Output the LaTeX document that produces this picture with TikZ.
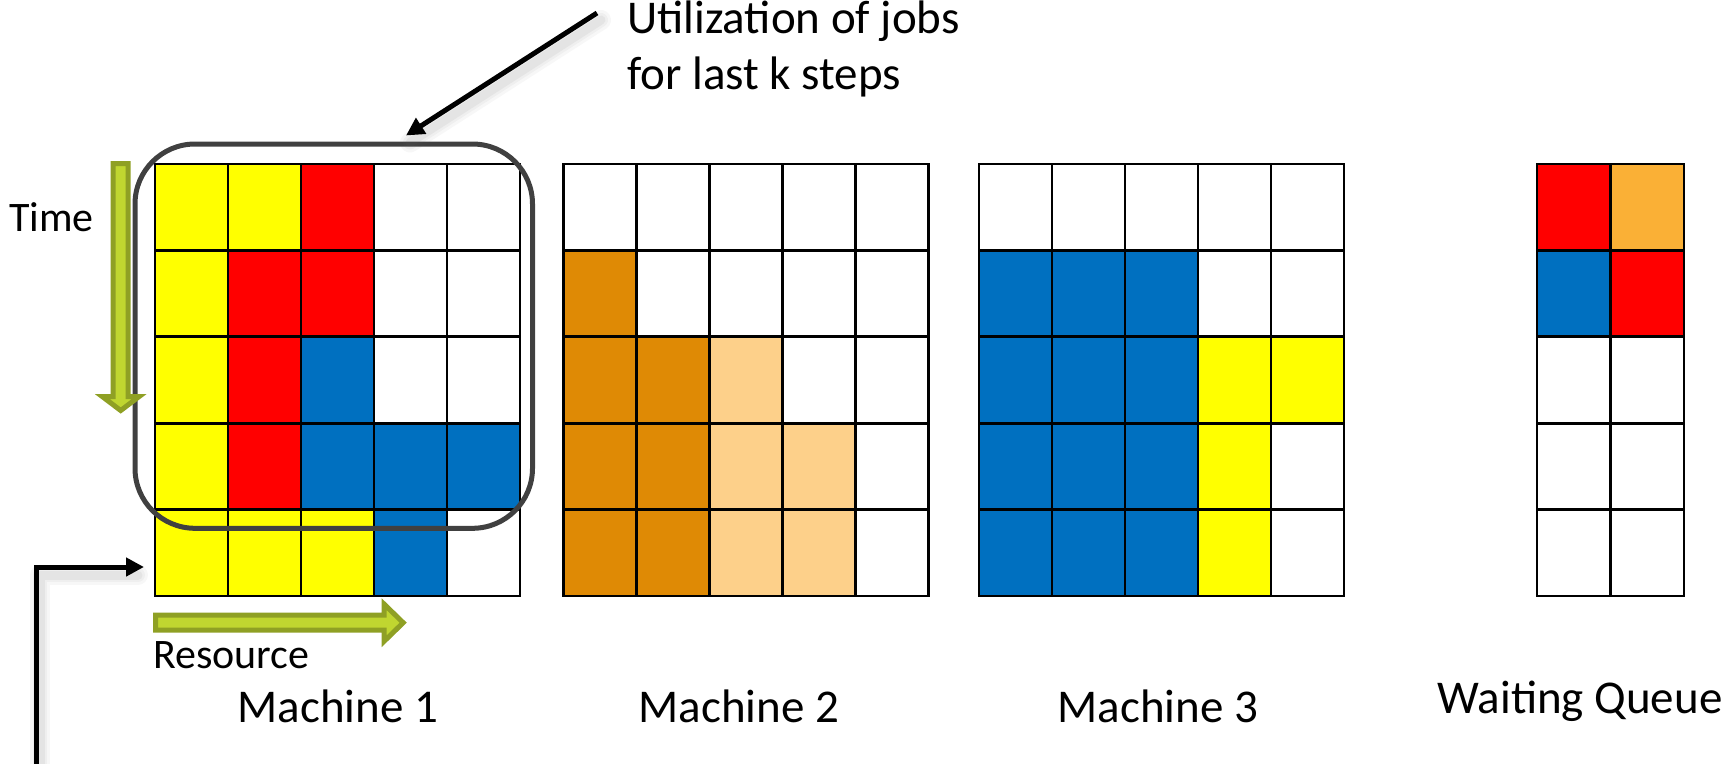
\documentclass[tikz,border=0pt]{standalone}
\usepackage{fontspec}
\setmainfont{Carlito}
\usetikzlibrary{arrows.meta}

% cell colours
\definecolor{cellY}{RGB}{255,255,0}
\definecolor{cellR}{RGB}{255,0,0}
\definecolor{cellB}{RGB}{0,112,192}
\definecolor{cellW}{RGB}{255,255,255}
\definecolor{cellD}{RGB}{223,138,5}
\definecolor{cellL}{RGB}{253,208,138}
\definecolor{cellO}{RGB}{250,176,54}
% other colours
\definecolor{axisFill}{RGB}{192,214,48}
\definecolor{axisEdge}{RGB}{143,160,36}
\definecolor{windowGray}{RGB}{64,64,64}

% #1 left x, #2 cell width, #3 number of columns, #4 rows of cell colours (top row first)
\newcommand\jobgrid[4]{%
  \foreach \rowcells [count=\r from 0] in {#4} {
    \foreach \cc [count=\i from 0] in \rowcells {
      \fill[fill=cell\cc] ({#1+\i*#2},{164+\r*86.4}) rectangle ++(#2,86.4);
    }
  }
  \foreach \i in {0,...,#3} \draw[gridline] ({#1+\i*#2},164) -- ++(0,432);
  \foreach \j in {0,...,5} \draw[gridline] (#1,{164+\j*86.4}) -- ++({#3*#2},0);
}

\tikzset{
  gridline/.style={black, line width=2.8pt, line cap=rect},
  biglabel/.style={font=\fontsize{47}{56}\selectfont, inner sep=0pt},
  smalllabel/.style={font=\fontsize{42}{50}\selectfont, inner sep=0pt},
  window/.style={draw=windowGray, line width=5pt, rounded corners=60pt, inner sep=0pt},
  axisarrow/.style={fill=axisFill, draw=axisEdge, line width=5pt, line join=miter},
  pointer/.style={black, line width=5pt, -{Triangle[length=18pt,width=18pt]}},
  shadowstroke/.style={black!60, line cap=round, line join=round},
}

\begin{document}
\begin{tikzpicture}[x=1pt, y=-1pt]
\useasboundingbox (0,0) rectangle (1732,763);

% machine grids
\jobgrid{155}{73}{5}{{Y,Y,R,W,W},{Y,R,R,W,W},{Y,R,B,W,W},{Y,R,B,B,B},{Y,Y,Y,B,W}}
\jobgrid{563.3}{73}{5}{{W,W,W,W,W},{D,W,W,W,W},{D,D,L,W,W},{D,D,L,L,W},{D,D,L,L,W}}
\jobgrid{979}{73}{5}{{W,W,W,W,W},{B,B,B,W,W},{B,B,B,Y,Y},{B,B,B,Y,W},{B,B,B,Y,W}}
% waiting queue
\jobgrid{1537}{73.5}{2}{{R,O},{B,R},{W,W},{W,W},{W,W}}

% window of the last k steps
\node[window, minimum width=397.5pt, minimum height=384.3pt] (window) at (333.75,336.15) {};

% time and resource axes
\draw[axisarrow] (113.2,163.5) -- (128.2,163.5) -- (128.2,396.5) -- (139.2,396.5)
  -- (120.7,410.5) -- (102.2,396.5) -- (113.2,396.5) -- cycle;
\draw[axisarrow] (155.5,615.2) -- (384.2,615.2) -- (384.2,604.2) -- (403.2,622.7)
  -- (384.2,641.2) -- (384.2,630.2) -- (155.5,630.2) -- cycle;

% labels
\node[smalllabel, anchor=base west] (time) at (9,231) {Time};
\node[smalllabel, anchor=base west] (resource) at (153,668) {Resource};
\node[biglabel, anchor=base] (m1) at (338,722) {Machine 1};
\node[biglabel, anchor=base] (m2) at (739,722) {Machine 2};
\node[biglabel, anchor=base] (m3) at (1158,722) {Machine 3};
\node[biglabel, anchor=base] (queue) at (1580,713) {Waiting Queue};
\node[biglabel, align=left, anchor=north west] (util) at (627,1) {Utilization of jobs\\for last k steps};

% pointers with soft shadows
\coordinate (utilTail) at (597,13);
\coordinate (windowMark) at ([shift={(72.25,-6)}]window.north);
\coordinate (hookTail) at (36,775);
\coordinate (hookHead) at (144,567);

\foreach \w/\o in {20/0.05, 14/0.06, 9/0.08} {
  \draw[shadowstroke, line width=\w pt, opacity=\o]
    ([shift={(4,7)}]utilTail) -- ([shift={(4,7)}]windowMark);
  \draw[shadowstroke, line width=\w pt, opacity=\o]
    ([shift={(4,8)}]hookTail) |- ([shift={(-6,8)}]hookHead);
}
\draw[pointer] (utilTail) -- (windowMark);
\draw[pointer] (hookTail) |- (hookHead);
\end{tikzpicture}
\end{document}
